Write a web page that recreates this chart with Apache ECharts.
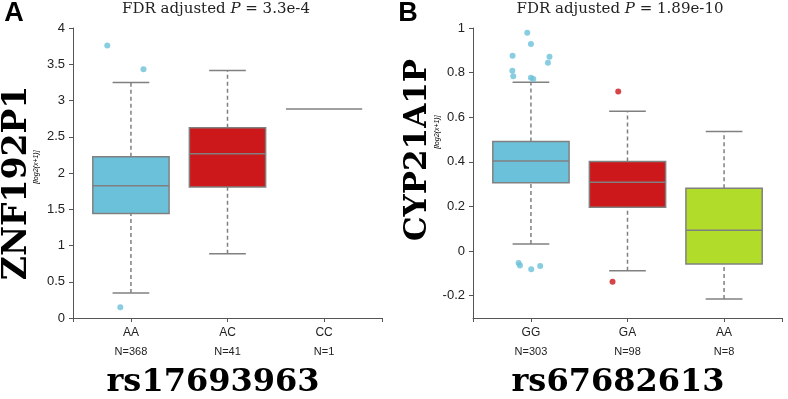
<!DOCTYPE html>
<html>
<head>
<meta charset="utf-8">
<script src="https://cdn.jsdelivr.net/npm/echarts@6/dist/echarts.min.js"></script>
<style>
  html, body { margin: 0; padding: 0; background: #fff; }
  #chart { width: 788px; height: 399px; }
</style>
</head>
<body>
<div id="chart"></div>
<script>
// panel A: ZNF192P1 by rs17693963
const catsA = ['AA', 'AC', 'CC']
const countsA = ['N=368', 'N=41', 'N=1']
// [low whisker, q1, median, q3, high whisker]
const boxA = [
  [0.345, 1.44, 1.825, 2.225, 3.25],
  [0.887, 1.807, 2.266, 2.625, 3.415],
  [2.883, 2.883, 2.883, 2.883, 2.883]
]
// [group, jitter, value]
const outA = [[0, -0.245, 3.76], [0, 0.13, 3.43], [0, -0.11, 0.147]]

// panel B: CYP21A1P by rs67682613
const catsB = ['GG', 'GA', 'AA']
const countsB = ['N=303', 'N=98', 'N=8']
const boxB = [
  [0.032, 0.306, 0.404, 0.491, 0.757],
  [-0.088, 0.197, 0.309, 0.402, 0.627],
  [-0.215, -0.058, 0.093, 0.282, 0.536]
]
const outB = [
  [0, -0.19, 0.876], [0, -0.193, 0.808], [0, -0.183, 0.784], [0, -0.038, 0.979],
  [0, 0, 0.928], [0, 0.192, 0.871], [0, 0.176, 0.844], [0, 0, 0.777], [0, 0.024, 0.771],
  [0, -0.128, -0.053], [0, -0.114, -0.065], [0, 0.003, -0.082], [0, 0.096, -0.067],
  [1, -0.096, 0.715], [1, -0.155, -0.137]
]
const ticksB = [-0.2, 0, 0.2, 0.4, 0.6, 0.8, 1]

const colors = ['#6bc0da', '#cc181b', '#b2dc2a']
const gray = '#808080'
const axisColor = '#555'

function renderBox (params, api) {
  const g = api.value(0)
  const y = v => api.coord([g, v])[1]
  const cx = api.coord([g, api.value(3)])[0]
  const half = api.size([0.395, 0])[0]
  const cap = api.size([0.19, 0])[0]
  const lo = y(api.value(1))
  const q1 = y(api.value(2))
  const md = y(api.value(3))
  const q3 = y(api.value(4))
  const hi = y(api.value(5))
  const single = api.value(1) === api.value(5)
  const dash = { stroke: gray, lineWidth: 1.5, lineDash: [4, 3] }
  const solid = { stroke: gray, lineWidth: 1.5 }
  const children = []
  if (!single) {
    children.push(
      { type: 'line', shape: { x1: cx, y1: q3, x2: cx, y2: hi }, style: dash },
      { type: 'line', shape: { x1: cx, y1: lo, x2: cx, y2: q1 }, style: dash },
      { type: 'line', shape: { x1: cx - cap, y1: hi, x2: cx + cap, y2: hi }, style: solid },
      { type: 'line', shape: { x1: cx - cap, y1: lo, x2: cx + cap, y2: lo }, style: solid },
      { type: 'rect', shape: { x: cx - half, y: q3, width: half * 2, height: q1 - q3 },
        style: { fill: colors[g], stroke: gray, lineWidth: 1.5 } }
    )
  }
  children.push({ type: 'line', shape: { x1: cx - half, y1: md, x2: cx + half, y2: md }, style: solid })
  return { type: 'group', children }
}

function xAxisFor (gridIndex, cats, counts) {
  return {
    type: 'value',
    gridIndex,
    min: -0.6,
    max: 2.6,
    axisLine: { show: true, onZero: false, lineStyle: { color: axisColor } },
    axisTick: { show: true, length: 4, customValues: [-0.6, 0, 1, 2, 2.6], lineStyle: { color: axisColor } },
    splitLine: { show: false },
    axisLabel: {
      customValues: [0, 1, 2],
      margin: 5,
      formatter: v => '{c|' + cats[Math.round(v)] + '}\n{n|' + counts[Math.round(v)] + '}',
      rich: {
        c: { fontFamily: 'Liberation Sans', fontSize: 12, color: '#222', lineHeight: 19 },
        n: { fontFamily: 'Liberation Sans', fontSize: 11, color: '#222', lineHeight: 19 }
      }
    }
  }
}

const labelStyle = { fontFamily: 'Liberation Sans', fontSize: 13, color: '#222', margin: 8 }

const bigText = (text, x, y, size, rotate) => ({
  type: 'text',
  x,
  y,
  rotation: rotate ? Math.PI / 2 : 0,
  style: {
    text,
    align: 'center',
    verticalAlign: 'middle',
    font: 'bold ' + size + 'px "DejaVu Serif"',
    fill: '#000'
  }
})

const smallText = (x, y) => ({
  type: 'text',
  x,
  y,
  rotation: Math.PI / 2,
  style: {
    text: '[log2(x+1)]',
    align: 'center',
    verticalAlign: 'middle',
    font: 'italic 7px "Liberation Sans"',
    fill: '#000'
  }
})

const titleText = (pval, x) => ({
  type: 'text',
  x,
  y: 9,
  style: {
    text: '{t|FDR adjusted }{i|P}{t| = ' + pval + '}',
    align: 'center',
    verticalAlign: 'middle',
    rich: {
      t: { fontFamily: 'DejaVu Serif', fontSize: 15, fill: '#222' },
      i: { fontFamily: 'DejaVu Serif', fontStyle: 'italic', fontSize: 15, fill: '#222' }
    }
  }
})

const letter = (text, x) => ({
  type: 'text',
  x,
  y: 14,
  style: {
    text,
    align: 'center',
    verticalAlign: 'middle',
    font: 'bold 27px "Liberation Sans"',
    fill: '#000'
  }
})

const option = {
  backgroundColor: '#fff',
  animation: false,
  grid: [
    { left: 73, top: 28, width: 309, height: 290 },
    { left: 473, top: 28, width: 309, height: 290 }
  ],
  xAxis: [xAxisFor(0, catsA, countsA), xAxisFor(1, catsB, countsB)],
  yAxis: [
    {
      type: 'value',
      gridIndex: 0,
      min: 0,
      max: 4,
      interval: 0.5,
      axisLine: { show: true, onZero: false, lineStyle: { color: axisColor } },
      axisTick: { show: true, length: 4, lineStyle: { color: axisColor } },
      splitLine: { show: false },
      axisLabel: labelStyle
    },
    {
      type: 'value',
      gridIndex: 1,
      min: -0.3,
      max: 1,
      axisLine: { show: true, onZero: false, lineStyle: { color: axisColor } },
      axisTick: { show: true, length: 4, customValues: ticksB, lineStyle: { color: axisColor } },
      splitLine: { show: false },
      axisLabel: Object.assign({ customValues: ticksB }, labelStyle)
    }
  ],
  series: [
    {
      type: 'custom',
      xAxisIndex: 0,
      yAxisIndex: 0,
      renderItem: renderBox,
      encode: { x: 0, y: [1, 2, 3, 4, 5] },
      data: boxA.map((b, i) => [i].concat(b))
    },
    {
      type: 'custom',
      xAxisIndex: 1,
      yAxisIndex: 1,
      renderItem: renderBox,
      encode: { x: 0, y: [1, 2, 3, 4, 5] },
      data: boxB.map((b, i) => [i].concat(b))
    },
    {
      type: 'scatter',
      xAxisIndex: 0,
      yAxisIndex: 0,
      symbolSize: 6,
      data: outA.map(o => ({ value: [o[0] + o[1], o[2]], itemStyle: { color: colors[o[0]] } }))
    },
    {
      type: 'scatter',
      xAxisIndex: 1,
      yAxisIndex: 1,
      symbolSize: 6,
      data: outB.map(o => ({ value: [o[0] + o[1], o[2]], itemStyle: { color: colors[o[0]] } }))
    }
  ],
  graphic: [
    letter('A', 14),
    letter('B', 408),
    titleText('3.3e-4', 216),
    titleText('1.89e-10', 620),
    bigText('ZNF192P1', 17, 183, 33, true),
    bigText('CYP21A1P', 418, 150, 31, true),
    smallText(36, 167),
    smallText(437, 132),
    bigText('rs17693963', 213, 383, 32, false),
    bigText('rs67682613', 618, 383, 32, false)
  ]
}

const myChart = echarts.init(document.getElementById('chart'))
myChart.setOption(option)
</script>
</body>
</html>
